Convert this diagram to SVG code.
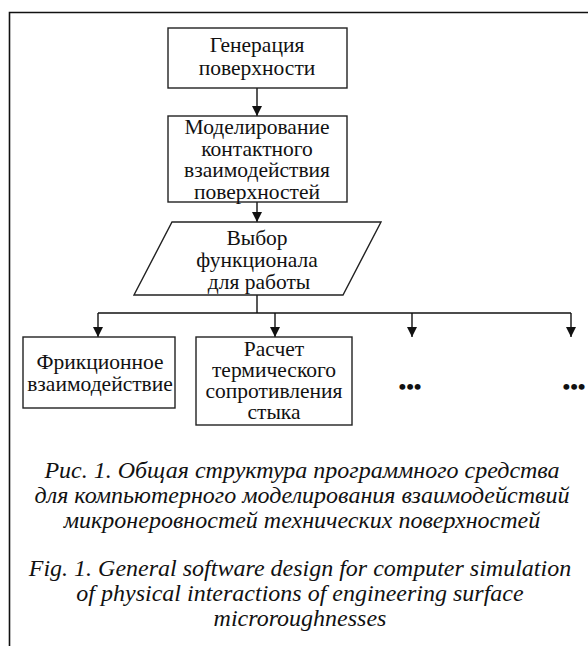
<svg xmlns="http://www.w3.org/2000/svg" width="588" height="646" viewBox="0 0 588 646">
<defs>
<marker id="ah" viewBox="0 0 10 10" refX="10" refY="5" markerWidth="10" markerHeight="10" markerUnits="userSpaceOnUse" orient="auto">
<path d="M0,0 L10,5 L0,10 z" fill="#111"/>
</marker>
<style>
.box{fill:#fff;stroke:#222;stroke-width:1.4}
.t{font-family:"Liberation Serif","Times New Roman",serif;font-size:21.5px;fill:#111;text-anchor:middle}
.cap{font-family:"Liberation Serif","Times New Roman",serif;font-size:24px;font-style:italic;fill:#111;text-anchor:middle}
.ln{fill:none;stroke:#111;stroke-width:1.4}
.dots{font-family:"Liberation Serif","Times New Roman",serif;font-size:22px;font-weight:bold;fill:#111;text-anchor:middle}
</style>
</defs>
<rect width="588" height="646" fill="#fff"/>
<path d="M9.5,646 V12.5 H588" fill="none" stroke="#111" stroke-width="1.6"/>
<g id="connectors">
<line class="ln" x1="257" y1="88" x2="257" y2="116" marker-end="url(#ah)"/>
<line class="ln" x1="257" y1="202" x2="257" y2="222" marker-end="url(#ah)"/>
<line class="ln" x1="257" y1="295" x2="257" y2="313"/>
<line class="ln" x1="98" y1="313" x2="571" y2="313"/>
<line class="ln" x1="98" y1="313" x2="98" y2="337" marker-end="url(#ah)"/>
<line class="ln" x1="275" y1="313" x2="275" y2="337" marker-end="url(#ah)"/>
<line class="ln" x1="412" y1="313" x2="412" y2="337" marker-end="url(#ah)"/>
<line class="ln" x1="571" y1="313" x2="571" y2="337" marker-end="url(#ah)"/>
</g>
<g id="gen">
<rect class="box" x="168" y="28" width="179" height="60"/>
<text class="t" x="257" y="52">Генерация</text>
<text class="t" x="257" y="75">поверхности</text>
</g>
<g id="model">
<rect class="box" x="168" y="116" width="179" height="86"/>
<text class="t" x="257" y="134">Моделирование</text>
<text class="t" x="257" y="155.5">контактного</text>
<text class="t" x="257" y="177">взаимодействия</text>
<text class="t" x="257" y="198.5">поверхностей</text>
</g>
<g id="choice">
<polygon class="box" points="172,222 381,222 343,295 134,295"/>
<text class="t" x="257" y="245">Выбор</text>
<text class="t" x="257" y="267">функционала</text>
<text class="t" x="259" y="289">для работы</text>
</g>
<g id="friction">
<rect class="box" x="23" y="337" width="152" height="71"/>
<text class="t" x="100" y="369">Фрикционное</text>
<text class="t" x="100" y="391">взаимодействие</text>
</g>
<g id="thermal">
<rect class="box" x="196" y="337" width="156" height="88"/>
<text class="t" x="274" y="356">Расчет</text>
<text class="t" x="274" y="377">термического</text>
<text class="t" x="274" y="398">сопротивления</text>
<text class="t" x="274" y="419">стыка</text>
</g>
<g id="more1"><text class="dots" x="410" y="394">•••</text></g>
<g id="more2"><text class="dots" x="574" y="394">•••</text></g>
<g id="caption">
<text class="cap" x="302" y="478">Рис. 1. Общая структура программного средства</text>
<text class="cap" x="302" y="503">для компьютерного моделирования взаимодействий</text>
<text class="cap" x="302" y="528">микронеровностей технических поверхностей</text>
<text class="cap" x="300" y="576">Fig. 1. General software design for computer simulation</text>
<text class="cap" x="300" y="601">of physical interactions of engineering surface</text>
<text class="cap" x="300" y="626">microroughnesses</text>
</g>
</svg>
